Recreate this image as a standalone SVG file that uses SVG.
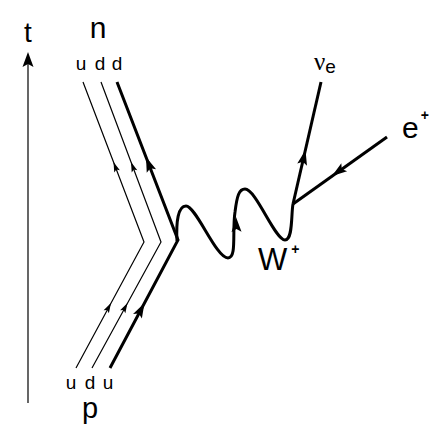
<svg xmlns="http://www.w3.org/2000/svg" width="440" height="440" viewBox="0 0 440 440">
<style>
.lbl{font-family:"Liberation Sans",Arial,sans-serif;fill:#000}
.sup{font-weight:bold}
.thin{fill:none;stroke:#000;stroke-width:1.2}
.thick{fill:none;stroke:#000;stroke-width:3}
.ah{fill:#000;stroke:none}
</style>
<defs>
<polygon id="ahThin" points="0,0 -10,-3 -8,0 -10,3"/>
<polygon id="ahThick" points="0,0 -15,-5 -12,0 -15,5"/>
</defs>
<g id="time-axis">
<line class="thin" x1="28" y1="403" x2="28" y2="60"/>
<polygon class="ah" points="28,52 33.5,67 28,64 22.5,67"/>
<text class="lbl" x="28" y="42" font-size="28" text-anchor="middle">t</text>
</g>
<g id="neutron">
<text class="lbl" x="98" y="38" font-size="30" text-anchor="middle">n</text>
<text class="lbl" x="81" y="70" font-size="19" text-anchor="middle">u</text>
<text class="lbl" x="100" y="70" font-size="19" text-anchor="middle">d</text>
<text class="lbl" x="117" y="70" font-size="19" text-anchor="middle">d</text>
</g>
<g id="proton">
<text class="lbl" x="71" y="389" font-size="19" text-anchor="middle">u</text>
<text class="lbl" x="90" y="389" font-size="19" text-anchor="middle">d</text>
<text class="lbl" x="108" y="389" font-size="19" text-anchor="middle">u</text>
<text class="lbl" x="90" y="418" font-size="29" text-anchor="middle">p</text>
</g>
<g id="W-boson">
<text class="lbl" x="258" y="270" font-size="31">W<tspan class="sup" font-size="14" dx="4" dy="-16">+</tspan></text>
</g>
<g id="neutrino">
<text x="314" y="70" font-size="25" font-family="'Liberation Serif','DejaVu Serif',serif">ν<tspan font-family="'Liberation Sans',Arial,sans-serif" font-size="19" dy="3">e</tspan></text>
</g>
<g id="positron">
<text class="lbl" x="402" y="138" font-size="30">e<tspan class="sup" font-size="14" dx="2" dy="-18">+</tspan></text>
</g>
<g id="connectors">
<polyline class="thin" points="76,368 144,242 83,82"/>
<polyline class="thin" points="92,368 161,242 101,82"/>
<polyline class="thick" points="110,368 178,240 117,82"/>
<use href="#ahThin" class="ah" transform="translate(113.5,162) rotate(-110.9)"/>
<use href="#ahThin" class="ah" transform="translate(131,162) rotate(-110.6)"/>
<use href="#ahThick" class="ah" transform="translate(146,157) rotate(-111.1)"/>
<use href="#ahThin" class="ah" transform="translate(111,303) rotate(-61.6)"/>
<use href="#ahThin" class="ah" transform="translate(127.5,303) rotate(-61.3)"/>
<use href="#ahThick" class="ah" transform="translate(144.5,303) rotate(-62)"/>
<path class="thick" d="M177,241 C176,222 178,206 186,206 C196,206 216,258 228,258 C237,258 232,232 235,212 C237,196 239,189 245,189 C256,189 275,240 285,240 C293,240 291,215 293,204"/>
<use href="#ahThick" class="ah" transform="translate(236,217) rotate(-92)"/>
<line class="thick" x1="293" y1="204" x2="321" y2="82"/>
<use href="#ahThick" class="ah" transform="translate(305.5,150) rotate(-77)"/>
<line class="thick" x1="387" y1="137" x2="293" y2="204"/>
<use href="#ahThick" class="ah" transform="translate(332,176) rotate(144.5)"/>
</g>
</svg>
